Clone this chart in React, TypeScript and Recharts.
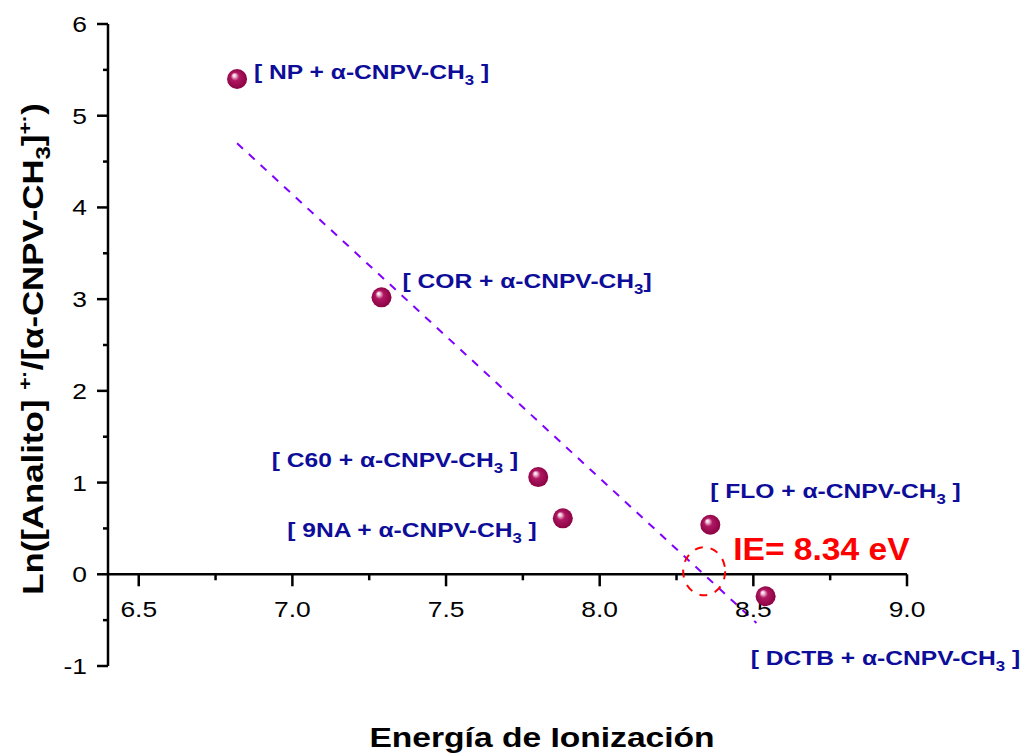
import { ScatterChart, Scatter, XAxis, YAxis, ReferenceLine, ReferenceDot } from 'recharts'

const FONT = '"Liberation Sans", Arial, Helvetica, sans-serif'
// text in this figure is drawn wider than plain Arial
const WIDE = 1.2
const NAVY = '#0d0d99'

// measured points
const COMPOUNDS = ['NP', 'COR', 'C60', '9NA', 'FLO', 'DCTB']
const ENERGY = [6.82, 7.29, 7.8, 7.88, 8.36, 8.54]
const LN_RATIO = [5.4, 3.02, 1.06, 0.61, 0.54, -0.24]
const CLOSING = [' ]', ']', ' ]', ' ]', ' ]', ' ]']

// linear fit end points and its x intercept
const FIT_X = [6.82, 8.51]
const FIT_Y = [4.7, -0.53]
const IE = 8.34

const X_MAJOR = [6.5, 7.0, 7.5, 8.0, 8.5, 9.0]
const X_MINOR = [6.75, 7.25, 7.75, 8.25, 8.75]
const Y_TICKS = [-1, -0.5, 0, 0.5, 1, 1.5, 2, 2.5, 3, 3.5, 4, 4.5, 5, 5.5, 6]

const points = COMPOUNDS.map((name, i) => ({ name, x: ENERGY[i], y: LN_RATIO[i], close: CLOSING[i] }))
const fitSegment = FIT_X.map((x, i) => ({ x, y: FIT_Y[i] }))

// where each label sits relative to its point (baseline)
const LABEL_POS: Record<string, { dx: number; dy: number; anchor: 'start' | 'end' }> = {
  NP: { dx: 17, dy: 0, anchor: 'start' },
  COR: { dx: 21, dy: -9, anchor: 'start' },
  C60: { dx: -20, dy: -10, anchor: 'end' },
  '9NA': { dx: -26, dy: 19, anchor: 'end' },
  FLO: { dx: 0, dy: -27, anchor: 'start' },
  DCTB: { dx: -15, dy: 69, anchor: 'start' },
}

function WideText({ x, y, anchor = 'start', rotate = 0, size, weight = 'normal', fill = '#000', scale = WIDE, children }: any) {
  return (
    <text
      transform={`translate(${x} ${y}) rotate(${rotate}) scale(${scale} 1)`}
      textAnchor={anchor}
      fontSize={size}
      fontWeight={weight}
      fill={fill}
      fontFamily={FONT}
    >
      {children}
    </text>
  )
}

function Sphere(props: any) {
  const { cx, cy, payload, index } = props
  if (cx == null || cy == null) return <g />
  const id = `sphere-${index}`
  const pos = LABEL_POS[payload.name]
  return (
    <g>
      <defs>
        <radialGradient id={id} cx="50%" cy="50%" r="55%" fx="34%" fy="30%">
          <stop offset="0%" stopColor="#ffffff" />
          <stop offset="14%" stopColor="#f2c6da" />
          <stop offset="38%" stopColor="#b01862" />
          <stop offset="100%" stopColor="#86003f" />
        </radialGradient>
      </defs>
      <circle cx={cx} cy={cy} r={10} fill={`url(#${id})`} />
      <WideText x={cx + pos.dx} y={cy + pos.dy} anchor={pos.anchor} size={20.5} weight="bold" fill={NAVY}>
        {`[ ${payload.name} + α-CNPV-CH`}
        <tspan dy={6} fontSize={14}>3</tspan>
        <tspan dy={-6}>{payload.close}</tspan>
      </WideText>
    </g>
  )
}

function YTick(props: any) {
  const { x, y, payload } = props
  const major = Number.isInteger(payload.value)
  return (
    <g>
      <line x1={x - (major ? 11 : 5)} y1={y} x2={x} y2={y} stroke="#000" strokeWidth={2.5} />
      {major && (
        <WideText x={x - 21} y={y + 8} anchor="end" size={22}>
          {payload.value}
        </WideText>
      )}
    </g>
  )
}

function XTick({ cx, cy, value, major }: any) {
  if (cx == null) return <g />
  return (
    <g>
      <line x1={cx} y1={cy} x2={cx} y2={cy + (major ? 12 : 6)} stroke="#000" strokeWidth={2.5} />
      {major && (
        <WideText x={cx} y={cy + 43} anchor="middle" size={22}>
          {value.toFixed(1)}
        </WideText>
      )}
    </g>
  )
}

function InterceptMark({ cx, cy }: any) {
  if (cx == null) return <g />
  return (
    <g>
      <ellipse cx={cx} cy={cy - 3} rx={21} ry={24} fill="none" stroke="#ff0000" strokeWidth={2} strokeDasharray="8 8" />
      <WideText x={cx + 29} y={cy - 14} size={32} weight="bold" fill="#ff0000" scale={1.05}>
        {`IE= ${IE.toFixed(2)} eV`}
      </WideText>
    </g>
  )
}

export default function App() {
  return (
    <div style={{ position: 'absolute', left: 0, top: 0, background: '#fff' }}>
      <ScatterChart width={1030} height={756} margin={{ top: 24, right: 123, bottom: 90, left: 48 }}>
        <XAxis type="number" dataKey="x" domain={[6.4, 9.0]} hide />
        <YAxis
          type="number"
          dataKey="y"
          domain={[-1, 6]}
          ticks={Y_TICKS}
          interval={0}
          width={60}
          tickSize={0}
          tickMargin={0}
          tickLine={false}
          axisLine={{ stroke: '#000', strokeWidth: 2.5 }}
          tick={(p: any) => <YTick {...p} />}
        />
        {/* x axis crosses at y = 0 */}
        <ReferenceLine y={0} stroke="#000" strokeWidth={2.5} />
        {X_MAJOR.map((v) => (
          <ReferenceDot key={`M${v}`} x={v} y={0} r={0} shape={(p: any) => <XTick {...p} value={v} major />} />
        ))}
        {X_MINOR.map((v) => (
          <ReferenceDot key={`m${v}`} x={v} y={0} r={0} shape={(p: any) => <XTick {...p} value={v} />} />
        ))}
        <ReferenceLine segment={fitSegment} stroke="#8000ff" strokeWidth={2} strokeDasharray="8 8" />
        <ReferenceDot x={IE} y={0} r={0} shape={(p: any) => <InterceptMark {...p} />} />
        <Scatter data={points} isAnimationActive={false} shape={(p: any) => <Sphere {...p} />} />

        <WideText x={542} y={747} anchor="middle" size={28} weight="bold">
          Energía de Ionización
        </WideText>
        <WideText x={43} y={349} anchor="middle" rotate={-90} size={29} weight="bold">
          Ln([Analito]{' '}
          <tspan dy={-12} fontSize={18}>+·</tspan>
          <tspan dy={12}>/[α-CNPV-CH</tspan>
          <tspan dy={7} fontSize={20}>3</tspan>
          <tspan dy={-7}>]</tspan>
          <tspan dy={-12} fontSize={18}>+·</tspan>
          <tspan dy={12}>)</tspan>
        </WideText>
      </ScatterChart>
    </div>
  )
}
